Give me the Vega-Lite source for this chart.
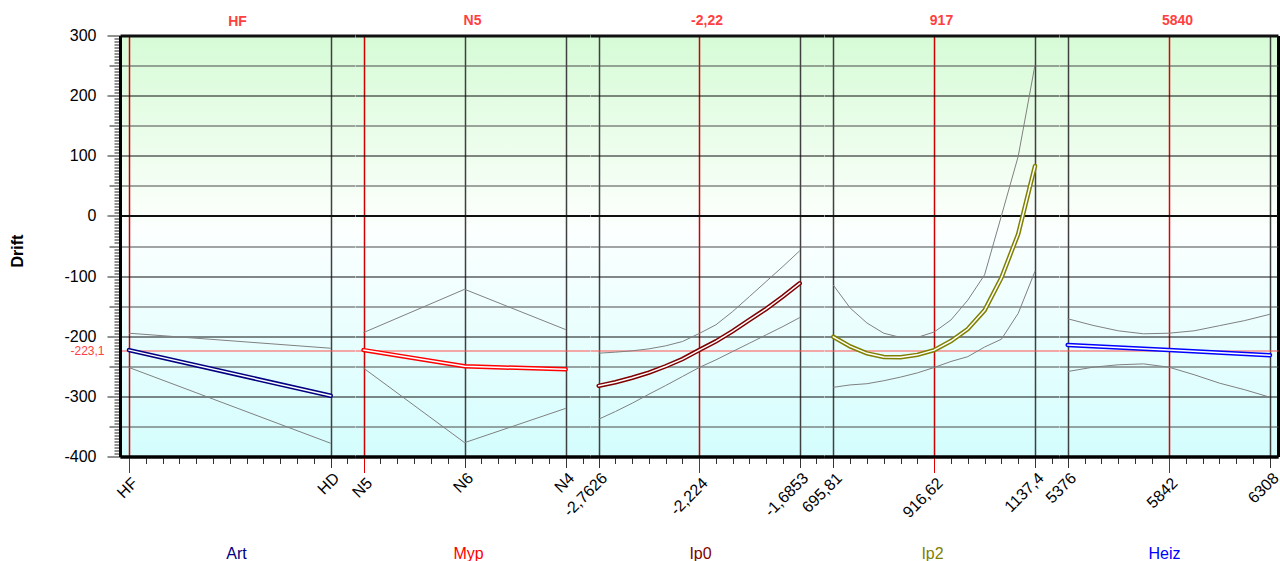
{
  "$schema": "https://vega.github.io/schema/vega-lite/v6.json",
  "padding": {"left": 9, "top": 13.5, "right": 0, "bottom": 0},
  "background": "white",
  "spacing": 0,
  "bounds": "flush",
  "config": {
    "font": "Liberation Sans",
    "view": {
      "stroke": null,
      "fill": {
        "gradient": "linear", "x1": 0, "y1": 0, "x2": 0, "y2": 1,
        "stops": [
          {"offset": 0, "color": "#d6fbd6"},
          {"offset": 0.43, "color": "#fbfffb"},
          {"offset": 0.47, "color": "#fbffff"},
          {"offset": 1, "color": "#d4fdfd"}
        ]
      }
    },
    "axis": {"labelFont": "Liberation Sans", "titleFont": "Liberation Sans"},
    "title": {"font": "Liberation Sans", "fontSize": 14, "fontWeight": "bold", "color": "#ff4040", "offset": 7.5, "anchor": "middle"}
  },
  "datasets": {
    "art": [
      {"Art": "HF", "Stufe": 0, "Drift": -223.1, "Oben": -195, "Unten": -252},
      {"Art": "HD", "Stufe": 1, "Drift": -299, "Oben": -220, "Unten": -378}
    ],
    "myp": [
      {"Myp": "N5", "Stufe": 0, "Drift": -223.1, "Oben": -194, "Unten": -253},
      {"Myp": "N6", "Stufe": 1, "Drift": -250, "Oben": -122, "Unten": -377},
      {"Myp": "N4", "Stufe": 2, "Drift": -255, "Oben": -189, "Unten": -320}
    ],
    "ip0": [
      {"Ip0": -2.7626, "Drift": -282.5, "Oben": -228.2, "Unten": -338},
      {"Ip0": -2.6728, "Drift": -276.5, "Oben": -226.5, "Unten": -325.2},
      {"Ip0": -2.5831, "Drift": -269, "Oben": -224.3, "Unten": -311.4},
      {"Ip0": -2.4933, "Drift": -260.5, "Oben": -221, "Unten": -296.4},
      {"Ip0": -2.4035, "Drift": -250, "Oben": -216, "Unten": -282},
      {"Ip0": -2.3137, "Drift": -238, "Oben": -208.8, "Unten": -267},
      {"Ip0": -2.224, "Drift": -223.1, "Oben": -195.5, "Unten": -252},
      {"Ip0": -2.1342, "Drift": -208.5, "Oben": -181, "Unten": -239.3},
      {"Ip0": -2.0444, "Drift": -191.5, "Oben": -158.9, "Unten": -225.4},
      {"Ip0": -1.9546, "Drift": -173, "Oben": -134, "Unten": -211.6},
      {"Ip0": -1.8649, "Drift": -154.5, "Oben": -109, "Unten": -197.7},
      {"Ip0": -1.7751, "Drift": -134, "Oben": -84, "Unten": -183.9},
      {"Ip0": -1.6853, "Drift": -112, "Oben": -58, "Unten": -169}
    ],
    "ip2": [
      {"Ip2": 695.81, "Drift": -201, "Oben": -115, "Unten": -285},
      {"Ip2": 732.61, "Drift": -217, "Oben": -153, "Unten": -281},
      {"Ip2": 769.41, "Drift": -228.5, "Oben": -178, "Unten": -279},
      {"Ip2": 806.21, "Drift": -234.5, "Oben": -195, "Unten": -274},
      {"Ip2": 843.01, "Drift": -235, "Oben": -202, "Unten": -268},
      {"Ip2": 879.81, "Drift": -231, "Oben": -202, "Unten": -261},
      {"Ip2": 916.62, "Drift": -223.1, "Oben": -193, "Unten": -252},
      {"Ip2": 953.4, "Drift": -208, "Oben": -173, "Unten": -242},
      {"Ip2": 990.2, "Drift": -188, "Oben": -140, "Unten": -234},
      {"Ip2": 1027.0, "Drift": -157, "Oben": -98, "Unten": -218},
      {"Ip2": 1063.8, "Drift": -103, "Oben": 0, "Unten": -205},
      {"Ip2": 1100.6, "Drift": -30, "Oben": 99, "Unten": -162},
      {"Ip2": 1137.4, "Drift": 83, "Oben": 251, "Unten": -92}
    ],
    "heiz": [
      {"Heiz": 5376, "Drift": -214.5, "Oben": -171, "Unten": -258.7},
      {"Heiz": 5492.5, "Drift": null, "Oben": -182, "Unten": -251.5},
      {"Heiz": 5609, "Drift": null, "Oben": -191, "Unten": -247.5},
      {"Heiz": 5725.5, "Drift": null, "Oben": -196, "Unten": -246},
      {"Heiz": 5842, "Drift": -223.1, "Oben": -195, "Unten": -251.5},
      {"Heiz": 5958.5, "Drift": null, "Oben": -191, "Unten": -264},
      {"Heiz": 6075, "Drift": null, "Oben": -182.5, "Unten": -278},
      {"Heiz": 6191.5, "Drift": null, "Oben": -174, "Unten": -289},
      {"Heiz": 6308, "Drift": -231.5, "Oben": -163.5, "Unten": -301.5}
    ]
  },
  "hconcat": [
    {
      "width": 235, "height": 421,
      "data": {"name": "art"},
      "title": {"text": "HF", "offset": -1.5},
      "transform": [{"fold": ["Oben", "Unten", "Drift"], "as": ["Kurve", "Wert"]}],
      "encoding": {
        "x": {
          "field": "Stufe", "type": "quantitative",
          "scale": {"domain": [-0.0446, 1.1205], "nice": false, "zero": false},
          "axis": {
            "values": [0, 0.0833, 0.1667, 0.25, 0.3333, 0.4167, 0.5, 0.5833, 0.6667, 0.75, 0.8333, 0.9167, 1, 1.0833],
            "labelExpr": "datum.value === 0 ? 'HF' : (datum.value === 1 ? 'HD' : '')",
            "labelAngle": -45, "labelFontSize": 16, "labelColor": "black", "labelPadding": 2,
            "labelOverlap": false, "labelFlush": false, "labelBound": false,
            "tickSize": {"condition": [{"test": "datum.value === 0", "value": 16}, {"test": "datum.value === 1", "value": 11}], "value": 7},
            "tickColor": {"condition": {"test": "datum.value === 0", "value": "#e00000"}, "value": "#333333"},
            "grid": true,
            "gridOpacity": {"condition": {"test": "datum.value === 0 || datum.value === 1", "value": 1}, "value": 0},
            "gridColor": {"condition": {"test": "datum.value === 0", "value": "#d00000"}, "value": "#404040"},
            "gridWidth": 1.5,
            "domainColor": "black", "domainWidth": 3,
            "title": "Art", "titleColor": "#000080", "titleFontSize": 16, "titleFontWeight": "normal",
            "titleY": 102, "titleX": 116, "titleBaseline": "alphabetic"
          }
        },
        "y": {
          "field": "Wert", "type": "quantitative",
          "scale": {"domain": [-400, 300], "nice": false, "zero": false},
          "axis": {
            "values": [-400,-395,-390,-385,-380,-375,-370,-365,-360,-355,-350,-345,-340,-335,-330,-325,-320,-315,-310,-305,-300,-295,-290,-285,-280,-275,-270,-265,-260,-255,-250,-245,-240,-235,-230,-225,-220,-215,-210,-205,-200,-195,-190,-185,-180,-175,-170,-165,-160,-155,-150,-145,-140,-135,-130,-125,-120,-115,-110,-105,-100,-95,-90,-85,-80,-75,-70,-65,-60,-55,-50,-45,-40,-35,-30,-25,-20,-15,-10,-5,0,5,10,15,20,25,30,35,40,45,50,55,60,65,70,75,80,85,90,95,100,105,110,115,120,125,130,135,140,145,150,155,160,165,170,175,180,185,190,195,200,205,210,215,220,225,230,235,240,245,250,255,260,265,270,275,280,285,290,295,300,-223.1],
            "labelExpr": "datum.value === -223.1 ? '-223,1' : (datum.value % 100 === 0 ? toString(datum.value) : '')",
            "labelFontSize": {"condition": {"test": "datum.value === -223.1", "value": 12}, "value": 16},
            "labelColor": {"condition": {"test": "datum.value === -223.1", "value": "#ff4040"}, "value": "black"},
            "labelPadding": {"condition": {"test": "datum.value === -223.1", "value": 3}, "value": 11},
            "labelOverlap": false, "labelFlush": false, "labelBound": false,
            "tickSize": {"condition": [{"test": "datum.value % 100 === 0 || datum.value === -223.1", "value": 13}, {"test": "datum.value % 50 === 0", "value": 11}], "value": 6},
            "tickOpacity": {"condition": {"test": "datum.value === -223.1", "value": 0}, "value": 1},
            "tickColor": "#222222",
            "grid": true,
            "gridOpacity": {"condition": {"test": "datum.value % 50 === 0 || datum.value === -223.1", "value": 1}, "value": 0},
            "gridColor": {"condition": [{"test": "datum.value === -223.1", "value": "#ff5050"}, {"test": "datum.value % 100 === 0", "value": "#101010"}], "value": "#4a4a4a"},
            "gridWidth": {"condition": [{"test": "datum.value === 300 || datum.value === -400", "value": 3}, {"test": "datum.value === 0", "value": 2}], "value": 1},
            "domainColor": "black", "domainWidth": 3,
            "title": "Drift", "titleFontSize": 16, "titleFontWeight": "bold", "titleColor": "black",
            "titleX": -103, "titleY": 215, "titleAngle": -90, "titleAlign": "center", "titleBaseline": "middle"
          }
        }
      },
      "layer": [
        {
          "transform": [{"filter": "datum.Kurve !== 'Drift'"}],
          "mark": {"type": "line", "color": "#808080", "strokeWidth": 1},
          "encoding": {"detail": {"field": "Kurve"}}
        },
        {
          "transform": [{"filter": "datum.Kurve === 'Drift' && isValid(datum.Wert)"}],
          "mark": {"type": "line", "color": "#000080", "strokeWidth": 4.5, "strokeCap": "round"},
          "encoding": {}
        },
        {
          "transform": [{"filter": "datum.Kurve === 'Drift' && isValid(datum.Wert)"}],
          "mark": {"type": "line", "color": "#ffffff", "strokeWidth": 1.5, "strokeCap": "round"},
          "encoding": {}
        }
      ]
    },
    {
      "width": 235, "height": 421,
      "data": {"name": "myp"},
      "title": {"text": "N5"},
      "transform": [{"fold": ["Oben", "Unten", "Drift"], "as": ["Kurve", "Wert"]}],
      "encoding": {
        "x": {
          "field": "Stufe", "type": "quantitative",
          "scale": {"domain": [-0.0841, 2.2404], "nice": false, "zero": false},
          "axis": {
            "values": [0, 0.1667, 0.3333, 0.5, 0.6667, 0.8333, 1, 1.1667, 1.3333, 1.5, 1.6667, 1.8333, 2, 2.1667],
            "labelExpr": "datum.value === 0 ? 'N5' : (datum.value === 1 ? 'N6' : (datum.value === 2 ? 'N4' : ''))",
            "labelAngle": -45, "labelFontSize": 16, "labelColor": "black", "labelPadding": 2,
            "labelOverlap": false, "labelFlush": false, "labelBound": false,
            "tickSize": {"condition": [{"test": "datum.value === 0", "value": 16}, {"test": "datum.value === 1 || datum.value === 2", "value": 11}], "value": 7},
            "tickColor": {"condition": {"test": "datum.value === 0", "value": "#e00000"}, "value": "#333333"},
            "grid": true,
            "gridOpacity": {"condition": {"test": "datum.value === 0 || datum.value === 1 || datum.value === 2", "value": 1}, "value": 0},
            "gridColor": {"condition": {"test": "datum.value === 0", "value": "#d00000"}, "value": "#404040"},
            "gridWidth": 1.5,
            "domainColor": "black", "domainWidth": 3,
            "title": "Myp", "titleColor": "#ff0000", "titleFontSize": 16, "titleFontWeight": "normal",
            "titleY": 102, "titleX": 113, "titleBaseline": "alphabetic"
          }
        },
        "y": {
          "field": "Wert", "type": "quantitative",
          "scale": {"domain": [-400, 300], "nice": false, "zero": false},
          "axis": {
            "values": [-400,-350,-300,-250,-200,-150,-100,-50,0,50,100,150,200,250,300,-223.1],
            "labels": false, "ticks": false, "domain": false, "title": null,
            "grid": true,
            "gridColor": {"condition": [{"test": "datum.value === -223.1", "value": "#ff5050"}, {"test": "datum.value % 100 === 0", "value": "#101010"}], "value": "#4a4a4a"},
            "gridWidth": {"condition": [{"test": "datum.value === 300 || datum.value === -400", "value": 3}, {"test": "datum.value === 0", "value": 2}], "value": 1}
          }
        }
      },
      "layer": [
        {
          "transform": [{"filter": "datum.Kurve !== 'Drift'"}],
          "mark": {"type": "line", "color": "#808080", "strokeWidth": 1},
          "encoding": {"detail": {"field": "Kurve"}}
        },
        {
          "transform": [{"filter": "datum.Kurve === 'Drift' && isValid(datum.Wert)"}],
          "mark": {"type": "line", "color": "#ff0000", "strokeWidth": 4.5, "strokeCap": "round"},
          "encoding": {}
        },
        {
          "transform": [{"filter": "datum.Kurve === 'Drift' && isValid(datum.Wert)"}],
          "mark": {"type": "line", "color": "#ffffff", "strokeWidth": 1.5, "strokeCap": "round"},
          "encoding": {}
        }
      ]
    },
    {
      "width": 234, "height": 421,
      "data": {"name": "ip0"},
      "title": {"text": "-2,22"},
      "transform": [{"fold": ["Oben", "Unten", "Drift"], "as": ["Kurve", "Wert"]}],
      "encoding": {
        "x": {
          "field": "Ip0", "type": "quantitative",
          "scale": {"domain": [-2.80923, -1.55506], "nice": false, "zero": false},
          "axis": {
            "values": [-2.7626, -2.6728, -2.5831, -2.4933, -2.4035, -2.3137, -2.224, -2.1342, -2.0444, -1.9546, -1.8649, -1.7751, -1.6853, -1.5955],
            "labelExpr": "indexof([-2.7626, -2.224, -1.6853], datum.value) >= 0 ? replace(toString(datum.value), '.', ',') : ''",
            "labelAngle": -45, "labelFontSize": 16, "labelColor": "black", "labelPadding": 2,
            "labelOverlap": false, "labelFlush": false, "labelBound": false,
            "tickSize": {"condition": [{"test": "datum.value === -2.224", "value": 16}, {"test": "datum.value === -2.7626 || datum.value === -1.6853", "value": 11}], "value": 7},
            "tickColor": {"condition": {"test": "datum.value === -2.224", "value": "#e00000"}, "value": "#333333"},
            "grid": true,
            "gridOpacity": {"condition": {"test": "indexof([-2.7626, -2.224, -1.6853], datum.value) >= 0", "value": 1}, "value": 0},
            "gridColor": {"condition": {"test": "datum.value === -2.224", "value": "#d00000"}, "value": "#404040"},
            "gridWidth": 1.5,
            "domainColor": "black", "domainWidth": 3,
            "title": "Ip0", "titleColor": "#800000", "titleFontSize": 16, "titleFontWeight": "normal",
            "titleY": 102, "titleX": 110, "titleBaseline": "alphabetic"
          }
        },
        "y": {
          "field": "Wert", "type": "quantitative",
          "scale": {"domain": [-400, 300], "nice": false, "zero": false},
          "axis": {
            "values": [-400,-350,-300,-250,-200,-150,-100,-50,0,50,100,150,200,250,300,-223.1],
            "labels": false, "ticks": false, "domain": false, "title": null,
            "grid": true,
            "gridColor": {"condition": [{"test": "datum.value === -223.1", "value": "#ff5050"}, {"test": "datum.value % 100 === 0", "value": "#101010"}], "value": "#4a4a4a"},
            "gridWidth": {"condition": [{"test": "datum.value === 300 || datum.value === -400", "value": 3}, {"test": "datum.value === 0", "value": 2}], "value": 1}
          }
        }
      },
      "layer": [
        {
          "transform": [{"filter": "datum.Kurve !== 'Drift'"}],
          "mark": {"type": "line", "color": "#808080", "strokeWidth": 1},
          "encoding": {"detail": {"field": "Kurve"}}
        },
        {
          "transform": [{"filter": "datum.Kurve === 'Drift' && isValid(datum.Wert)"}],
          "mark": {"type": "line", "color": "#800000", "strokeWidth": 4.5, "strokeCap": "round"},
          "encoding": {}
        },
        {
          "transform": [{"filter": "datum.Kurve === 'Drift' && isValid(datum.Wert)"}],
          "mark": {"type": "line", "color": "#ffffff", "strokeWidth": 1.5, "strokeCap": "round"},
          "encoding": {}
        }
      ]
    },
    {
      "width": 235, "height": 421,
      "data": {"name": "ip2"},
      "title": {"text": "917"},
      "transform": [{"fold": ["Oben", "Unten", "Drift"], "as": ["Kurve", "Wert"]}],
      "encoding": {
        "x": {
          "field": "Ip2", "type": "quantitative",
          "scale": {"domain": [675.45, 1189.94], "nice": false, "zero": false},
          "axis": {
            "values": [695.81, 732.61, 769.41, 806.21, 843.01, 879.81, 916.62, 953.4, 990.2, 1027.0, 1063.8, 1100.6, 1137.4, 1174.2],
            "labelExpr": "indexof([695.81, 916.62, 1137.4], datum.value) >= 0 ? replace(toString(datum.value), '.', ',') : ''",
            "labelAngle": -45, "labelFontSize": 16, "labelColor": "black", "labelPadding": 2,
            "labelOverlap": false, "labelFlush": false, "labelBound": false,
            "tickSize": {"condition": [{"test": "datum.value === 916.62", "value": 16}, {"test": "datum.value === 695.81 || datum.value === 1137.4", "value": 11}], "value": 7},
            "tickColor": {"condition": {"test": "datum.value === 916.62", "value": "#e00000"}, "value": "#333333"},
            "grid": true,
            "gridOpacity": {"condition": {"test": "indexof([695.81, 916.62, 1137.4], datum.value) >= 0", "value": 1}, "value": 0},
            "gridColor": {"condition": {"test": "datum.value === 916.62", "value": "#d00000"}, "value": "#404040"},
            "gridWidth": 1.5,
            "domainColor": "black", "domainWidth": 3,
            "title": "Ip2", "titleColor": "#808000", "titleFontSize": 16, "titleFontWeight": "normal",
            "titleY": 102, "titleX": 108, "titleBaseline": "alphabetic"
          }
        },
        "y": {
          "field": "Wert", "type": "quantitative",
          "scale": {"domain": [-400, 300], "nice": false, "zero": false},
          "axis": {
            "values": [-400,-350,-300,-250,-200,-150,-100,-50,0,50,100,150,200,250,300,-223.1],
            "labels": false, "ticks": false, "domain": false, "title": null,
            "grid": true,
            "gridColor": {"condition": [{"test": "datum.value === -223.1", "value": "#ff5050"}, {"test": "datum.value % 100 === 0", "value": "#101010"}], "value": "#4a4a4a"},
            "gridWidth": {"condition": [{"test": "datum.value === 300 || datum.value === -400", "value": 3}, {"test": "datum.value === 0", "value": 2}], "value": 1}
          }
        }
      },
      "layer": [
        {
          "transform": [{"filter": "datum.Kurve !== 'Drift'"}],
          "mark": {"type": "line", "color": "#808080", "strokeWidth": 1},
          "encoding": {"detail": {"field": "Kurve"}}
        },
        {
          "transform": [{"filter": "datum.Kurve === 'Drift' && isValid(datum.Wert)"}],
          "mark": {"type": "line", "color": "#808000", "strokeWidth": 4.5, "strokeCap": "round"},
          "encoding": {}
        },
        {
          "transform": [{"filter": "datum.Kurve === 'Drift' && isValid(datum.Wert)"}],
          "mark": {"type": "line", "color": "#ffffff", "strokeWidth": 1.5, "strokeCap": "round"},
          "encoding": {}
        }
      ]
    },
    {
      "width": 219, "height": 421,
      "data": {"name": "heiz"},
      "title": {"text": "5840", "dx": 9},
      "transform": [{"fold": ["Oben", "Unten", "Drift"], "as": ["Kurve", "Wert"]}],
      "encoding": {
        "x": {
          "field": "Heiz", "type": "quantitative",
          "scale": {"domain": [5335.9, 6344.9], "nice": false, "zero": false},
          "axis": {
            "values": [5376, 5453.67, 5531.33, 5609, 5686.67, 5764.33, 5842, 5919.67, 5997.33, 6075, 6152.67, 6230.33, 6308, 6344.9],
            "labelExpr": "indexof([5376, 5842, 6308], datum.value) >= 0 ? toString(datum.value) : ''",
            "labelAngle": -45, "labelFontSize": 16, "labelColor": "black", "labelPadding": 2,
            "labelOverlap": false, "labelFlush": false, "labelBound": false,
            "tickSize": {"condition": [{"test": "datum.value === 5842", "value": 16}, {"test": "datum.value === 5376 || datum.value === 6308", "value": 11}], "value": 7},
            "tickOpacity": {"condition": {"test": "datum.value === 6344.9", "value": 0}, "value": 1},
            "tickColor": {"condition": {"test": "datum.value === 5842", "value": "#e00000"}, "value": "#333333"},
            "grid": true,
            "gridOpacity": {"condition": {"test": "indexof([5376, 5842, 6308, 6344.9], datum.value) >= 0", "value": 1}, "value": 0},
            "gridColor": {"condition": [{"test": "datum.value === 5842", "value": "#e00000"}, {"test": "datum.value === 6344.9", "value": "#000000"}], "value": "#404040"},
            "gridWidth": {"condition": {"test": "datum.value === 6344.9", "value": 3}, "value": 1.5},
            "domainColor": "black", "domainWidth": 3,
            "title": "Heiz", "titleColor": "#0000ff", "titleFontSize": 16, "titleFontWeight": "normal",
            "titleY": 102, "titleX": 105, "titleBaseline": "alphabetic"
          }
        },
        "y": {
          "field": "Wert", "type": "quantitative",
          "scale": {"domain": [-400, 300], "nice": false, "zero": false},
          "axis": {
            "values": [-400,-350,-300,-250,-200,-150,-100,-50,0,50,100,150,200,250,300,-223.1],
            "labels": false, "ticks": false, "domain": false, "title": null,
            "grid": true,
            "gridColor": {"condition": [{"test": "datum.value === -223.1", "value": "#ff5050"}, {"test": "datum.value % 100 === 0", "value": "#101010"}], "value": "#4a4a4a"},
            "gridWidth": {"condition": [{"test": "datum.value === 300 || datum.value === -400", "value": 3}, {"test": "datum.value === 0", "value": 2}], "value": 1}
          }
        }
      },
      "layer": [
        {
          "transform": [{"filter": "datum.Kurve !== 'Drift'"}],
          "mark": {"type": "line", "color": "#808080", "strokeWidth": 1},
          "encoding": {"detail": {"field": "Kurve"}}
        },
        {
          "transform": [{"filter": "datum.Kurve === 'Drift' && isValid(datum.Wert)"}],
          "mark": {"type": "line", "color": "#0000ff", "strokeWidth": 4.5, "strokeCap": "round"},
          "encoding": {}
        },
        {
          "transform": [{"filter": "datum.Kurve === 'Drift' && isValid(datum.Wert)"}],
          "mark": {"type": "line", "color": "#ffffff", "strokeWidth": 1.5, "strokeCap": "round"},
          "encoding": {}
        }
      ]
    }
  ]
}
